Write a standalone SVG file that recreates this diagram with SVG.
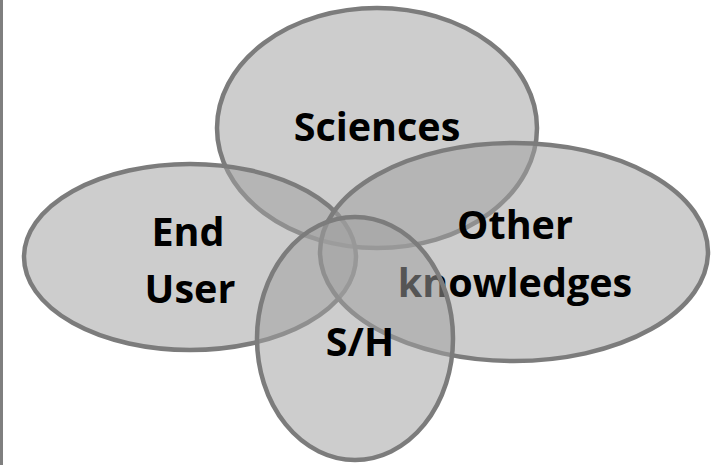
<svg xmlns="http://www.w3.org/2000/svg" width="713" height="465" viewBox="0 0 713 465">
  <style>
    .blob { fill: #a0a0a0; fill-opacity: 0.53; stroke: #7c7c7c; stroke-width: 4.5; }
    .lbl { font-family: "Open Sans", "Liberation Sans", sans-serif; font-weight: 700; font-size: 39.5px; fill: #000; text-anchor: middle; }
  </style>
  <rect x="0" y="0" width="713" height="465" fill="#ffffff"/>
  <!-- left frame edge -->
  <rect x="0" y="0" width="3" height="465" fill="#7f7f7f"/>

  <g id="sciences">
    <ellipse class="blob" cx="377" cy="128" rx="160" ry="120"/>
    <text class="lbl" x="377" y="141">Sciences</text>
  </g>
  <g id="end-user">
    <ellipse class="blob" cx="190" cy="257" rx="166" ry="93"/>
    <text class="lbl" x="188" y="246">End</text>
    <text class="lbl" x="190" y="303">User</text>
  </g>
  <g id="other-knowledges">
    <ellipse class="blob" cx="514" cy="252" rx="194" ry="109"/>
    <text class="lbl" x="515" y="239">Other</text>
    <text class="lbl" x="515" y="297">knowledges</text>
  </g>
  <g id="sh">
    <ellipse class="blob" cx="355" cy="338.5" rx="98" ry="121.5"/>
    <text class="lbl" x="360" y="356">S/H</text>
  </g>
  <g id="connectors"/>
</svg>
